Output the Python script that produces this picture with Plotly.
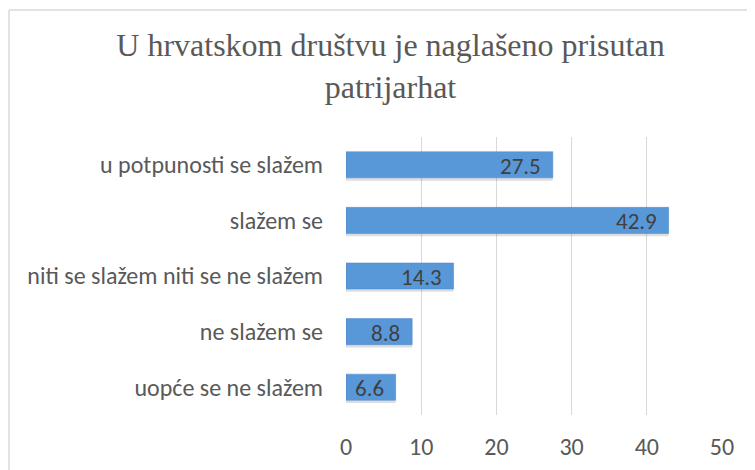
import plotly.graph_objects as go

categories = ["uopće se ne slažem", "ne slažem se", "niti se slažem niti se ne slažem",
              "slažem se", "u potpunosti se slažem"]
values = [6.6, 8.8, 14.3, 42.9, 27.5]
x_ticks = [0, 10, 20, 30, 40, 50]
title_text = "U hrvatskom društvu je naglašeno prisutan<br>patrijarhat"

SANS = "Carlito, Calibri, Roboto, sans-serif"

ML, MR, MT, MB = 338, 41, 129, 63
PW, PH = 755 - ML - MR, 470 - MT - MB

BAR_W = 0.47
fig = go.Figure()
# soft shadow beneath bars
fig.add_trace(go.Bar(
    y=categories, x=values, orientation="h",
    width=BAR_W, offset=-BAR_W / 2 - 0.05,
    marker=dict(color="rgba(0,0,0,0.13)", line=dict(width=0)),
    hoverinfo="skip",
))
fig.add_trace(go.Bar(
    y=categories, x=values, orientation="h",
    width=BAR_W, offset=-BAR_W / 2,
    marker=dict(color="#5898D8", line=dict(color="#4A88C8", width=0.5)),
))
for cat, v in zip(categories, values):
    fig.add_annotation(x=v, y=cat, xref="x", yref="y", text=f"{v:.1f}",
                       showarrow=False, xanchor="right", yanchor="middle", xshift=-10, yshift=-1,
                       font=dict(family=SANS, size=23, color="#404040"))

fx0 = (1 - ML) / PW
fy1 = (PH + MT - 2) / PH
fig.update_layout(
    width=755, height=470,
    margin=dict(l=ML, r=MR, t=MT, b=MB),
    paper_bgcolor="white", plot_bgcolor="white",
    barmode="overlay",
    showlegend=False,
    title=dict(text=title_text, x=0.5066, xanchor="center", y=0.898, yanchor="top",
               font=dict(family="Liberation Serif, Times New Roman, serif", size=32, color="#595959")),
    xaxis=dict(range=[0, 50], tickvals=x_ticks, showgrid=True, gridcolor="#D9D9D9", gridwidth=1.2,
               zeroline=False, showline=False, ticks="",
               tickfont=dict(family=SANS, size=24, color="#595959"),
               ticklabelstandoff=15),
    yaxis=dict(categoryorder="array", categoryarray=categories, showgrid=False, ticks="",
               tickfont=dict(family=SANS, size=24, color="#595959"),
               ticklabelstandoff=22, automargin=False),
    shapes=[
        dict(type="line", xref="paper", yref="paper", x0=fx0, x1=1.3, y0=fy1, y1=fy1,
             line=dict(color="#D9D9D9", width=1.5), layer="above"),
        dict(type="line", xref="paper", yref="paper", x0=fx0, x1=fx0, y0=-0.4, y1=fy1,
             line=dict(color="#D9D9D9", width=1.5), layer="above"),
    ],
)
fig.write_html("out.html")
